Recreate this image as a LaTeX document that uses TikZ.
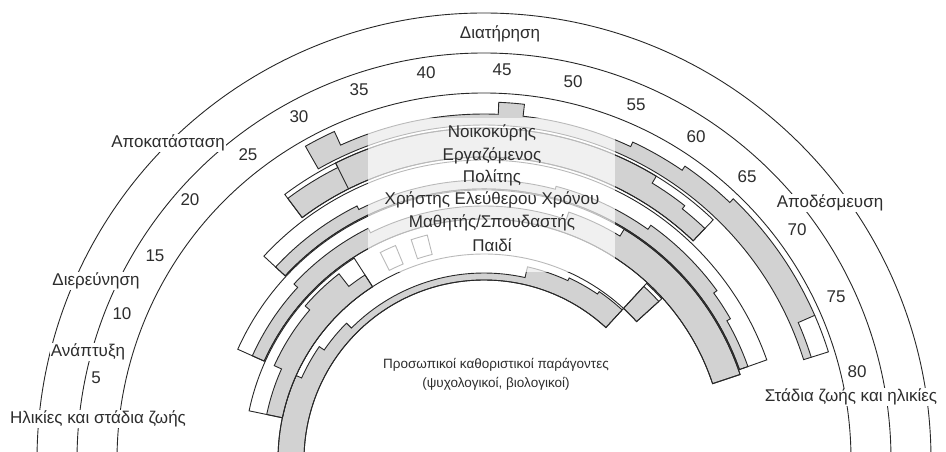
\documentclass[tikz,border=0pt]{standalone}
\usepackage{fontspec}
\setmainfont{Liberation Sans}
\definecolor{bandgray}{RGB}{210,210,210}
\definecolor{inkc}{RGB}{40,40,40}
\definecolor{txtc}{RGB}{45,45,45}
\newcommand\rbang[1]{(178.5-2.065*(#1))}
\newcommand\rbpa[3]{-- ({\rbang{#1}}:#3) arc[start angle={\rbang{#1}}, end angle={\rbang{#2}}, radius=#3]}
\newcommand\rbclose[3]{-- ({\rbang{#2}}:#3) arc[start angle={\rbang{#2}}, end angle={\rbang{#1}}, radius=#3] -- cycle}
\newcommand\bandout[4]{\draw[ln] ({\rbang{#1}}:#4) arc[start angle={\rbang{#1}}, end angle={\rbang{#2}}, radius=#4] -- ({\rbang{#2}}:#3) arc[start angle={\rbang{#2}}, end angle={\rbang{#1}}, radius=#3] -- cycle;}
\begin{document}
\begin{tikzpicture}[x=1pt,y=1pt,
  ln/.style={draw=inkc, line width=0.9pt, line join=miter},
  prof/.style={fill=bandgray, draw=inkc, line width=0.9pt},
  lbl/.style={font=\fontsize{17}{17}\selectfont, text=txtc, inner sep=1pt},
  small/.style={font=\fontsize{13.5}{13.5}\selectfont, text=txtc, inner sep=1pt},
  stage/.style={lbl, fill=white},
  agelbl/.style={lbl}]
\useasboundingbox (0,0) rectangle (946,452);
\clip (0,0) rectangle (946,452);
\begin{scope}[shift={(484,-8)}]
  % Child (Paidi)
  \filldraw[prof] ({\rbang{-4}}:180) \rbpa{-4}{11}{206} \rbpa{11}{16}{200} \rbpa{16}{21}{194} \rbpa{21}{49}{187} \rbpa{49}{55}{198} \rbpa{55}{59.5}{201} \rbpa{59.5}{63.5}{204} \rbclose{-4}{63.5}{180};
  \bandout{-4}{63.5}{180}{206}
  % Student
  \filldraw[prof] ({\rbang{5}}:206) \rbpa{5}{11}{222} \rbpa{11}{19}{230} \rbpa{19}{24.5}{236} \rbpa{24.5}{27}{220} \rbclose{5}{27}{206};
  \bandout{5}{27}{206}{240}
  \bandout{30}{32}{212}{232}
  \bandout{34}{36}{212}{232}
  \filldraw[prof] ({\rbang{63.5}}:206) \rbpa{63.5}{66}{236} \rbclose{63.5}{66}{206};
  \bandout{63.5}{66}{206}{240}
  % Leisure
  \filldraw[prof] ({\rbang{11}}:241) \rbpa{11}{20}{254} \rbpa{20}{30}{259} \rbpa{30}{52}{254} \rbpa{52}{58}{262} \rbpa{58}{77.5}{270} \rbclose{11}{77.5}{241};
  \bandout{11}{77.5}{241}{270}
  % Citizen
  \filldraw[prof] ({\rbang{20}}:271) \rbpa{20}{30}{284} \rbpa{30}{50}{280} \rbpa{50}{60}{283} \rbpa{60}{69}{288} \rbpa{69}{72}{284} \rbpa{72}{77}{280} \rbclose{20}{77}{271};
  \bandout{20}{77}{271}{300}
  % Worker
  \filldraw[prof] ({\rbang{25}}:303) \rbpa{25}{30}{327} \rbpa{30}{58}{332} \rbpa{58}{61.4}{324} \rbpa{61.4}{64}{320} \rbclose{25}{64}{303};
  \bandout{25}{64}{303}{332}
  \draw[ln] ({\rbang{30}}:303) -- ({\rbang{30}}:332);
  % Homemaker
  \filldraw[prof] ({\rbang{28.5}}:335) \rbpa{28.5}{31}{361} \rbpa{31}{44}{346} \rbpa{44}{46}{358} \rbpa{46}{55}{346} \rbpa{55}{59.5}{351} \rbpa{59.5}{64}{356} \rbpa{64}{75}{361} \rbpa{75}{78}{343} \rbclose{28.5}{78}{335};
  \draw[ln] ({\rbang{75}}:361) arc[start angle={\rbang{75}}, end angle={\rbang{78}}, radius=361] -- ({\rbang{78}}:343);
  % outer arcs
  \foreach \r in {367,407,447}
    \draw[ln] (-3:\r) arc[start angle=-3, end angle=183, radius=\r];
\end{scope}
% washed centre
\fill[white, opacity=0.68] (368,180) rectangle (615,334);
% ages
\node[agelbl] (a5) at (96,74) {5};
\node[agelbl] (a10) at (122,138) {10};
\node[agelbl] (a15) at (155,196) {15};
\node[agelbl] (a20) at (190,252) {20};
\node[agelbl] (a25) at (248,297) {25};
\node[agelbl] (a30) at (299,335) {30};
\node[agelbl] (a35) at (359,362) {35};
\node[agelbl] (a40) at (426,379) {40};
\node[agelbl] (a45) at (502,382) {45};
\node[agelbl] (a50) at (573,370) {50};
\node[agelbl] (a55) at (636,347) {55};
\node[agelbl] (a60) at (696,315) {60};
\node[agelbl] (a65) at (747,275) {65};
\node[agelbl] (a70) at (797,222) {70};
\node[agelbl] (a75) at (836,155) {75};
\node[agelbl] (a80) at (857,80) {80};
% stages
\node[stage] (s1) at (88,100) {Ανάπτυξη};
\node[stage] (s2) at (96,171) {Διερεύνηση};
\node[stage] (s3) at (168,309) {Αποκατάσταση};
\node[stage] (s4) at (500,418) {Διατήρηση};
\node[stage] (s5) at (830,249) {Αποδέσμευση};
\node[stage] (sl) at (98,33) {Ηλικίες και στάδια ζωής};
\node[stage] (sr) at (851,55) {Στάδια ζωής και ηλικίες};
% roles
\node[lbl] (r1) at (492,319) {Νοικοκύρης};
\node[lbl] (r2) at (492,296) {Εργαζόμενος};
\node[lbl] (r3) at (492,274) {Πολίτης};
\node[lbl] (r4) at (492,252) {Χρήστης Ελεύθερου Χρόνου};
\node[lbl] (r5) at (492,229) {Μαθητής/Σπουδαστής};
\node[lbl] (r6) at (492,207) {Παιδί};
% personal determinants
\node[small] (p1) at (496,87) {Προσωπικοί καθοριστικοί παράγοντες};
\node[small] (p2) at (496,68) {(ψυχολογικοί, βιολογικοί)};
\end{tikzpicture}
\end{document}
